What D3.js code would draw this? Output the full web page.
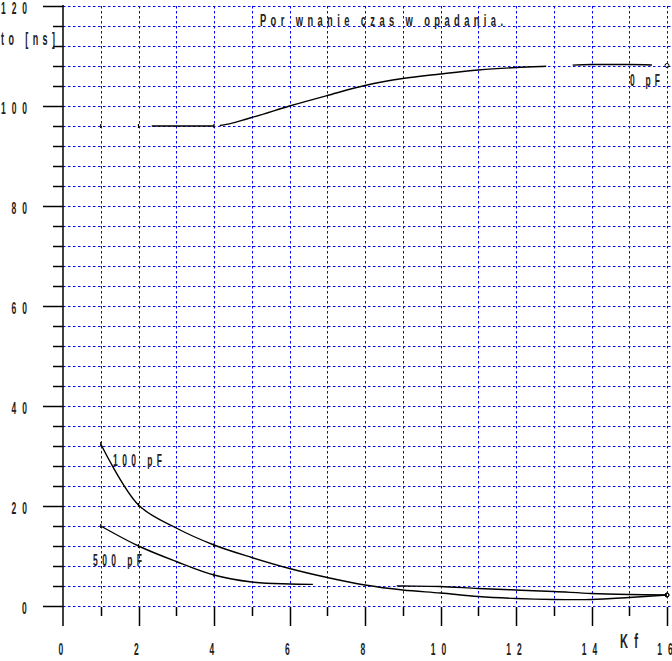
<!DOCTYPE html>
<html><head><meta charset="utf-8">
<script src="https://cdn.jsdelivr.net/npm/d3@7/dist/d3.min.js"></script>
<style>
html,body{margin:0;padding:0;background:#fff;}
text{font-family:"Liberation Sans",Arial,sans-serif;fill:#222;font-weight:bold;}
</style></head>
<body><svg id="c" width="672" height="661"></svg>
<script>
// ---- data ----
const kf = [1,2,3,4,5,6,7,8,9,10,11,12,13,14,15,16];
const pf0   = [96,96,96,96,97.7,100,102.1,104.1,105.5,106.4,107.2,107.7,108.0,108.3,108.3,108.1];
const pf100 = [32.4,20.2,15.6,12.2,9.7,7.5,5.7,4.2,3.2,2.6,1.9,1.5,1.3,1.3,1.7,2.2];
const pf500 = [16,12,8.9,6.2,4.8,4.4,4.3,4.1,4.0,3.9,3.5,3.2,2.9,2.5,2.3,2.2];
// visible drawn ranges of each curve (Kf units)
const pf0Ranges   = [[2.35,4.0],[4.15,12.8],[13.5,15.6]];
const pf100Ranges = [[1,16]];
const pf500Ranges = [[1,6.62],[8.84,16]];
const xTicks = [0,2,4,6,8,10,12,14,16];
const yTicks = [0,20,40,60,80,100,120];
const title = "Por wnanie czas w opadania.";
const yLabel = "to [ns]";
const xLabel = "Kf";
const seriesLabels = ["0 pF","100 pF","500 pF"];

// ---- scales ----
const svg = d3.select("#c");
const x = d3.scaleLinear().domain([0,16]).range([63,667]);
const y = d3.scaleLinear().domain([0,120]).range([606,6]);
const pitch = 10.5, glyphW = 5;
const w = s => (s.length-1)*pitch + glyphW;

// grid
const grid = svg.append("g").attr("stroke","#0000ff").attr("stroke-width",1)
  .attr("stroke-dasharray","2.5,2.5");
grid.selectAll("line.h").data(d3.range(0,121,4)).enter().append("line")
  .attr("x1",x(0)).attr("x2",672).attr("y1",d=>Math.round(y(d))+0.5).attr("y2",d=>Math.round(y(d))+0.5);
grid.selectAll("line.v").data(d3.range(1,17,1)).enter().append("line")
  .attr("x1",d=>Math.round(x(d))+0.5).attr("x2",d=>Math.round(x(d))+0.5).attr("y1",y(120)).attr("y2",y(0));

// axes
const ax = svg.append("g").attr("stroke","#000").attr("stroke-width",1.5);
ax.append("line").attr("x1",63).attr("x2",63).attr("y1",y(120)-1).attr("y2",626);
ax.selectAll("line.yt").data(d3.range(0,121,4)).enter().append("line")
  .attr("x1",d=>d%20===0?43:53).attr("x2",63).attr("y1",d=>Math.round(y(d))+0.5).attr("y2",d=>Math.round(y(d))+0.5);
ax.selectAll("line.xt").data(d3.range(1,17,1)).enter().append("line")
  .attr("x1",d=>Math.round(x(d))+0.5).attr("x2",d=>Math.round(x(d))+0.5)
  .attr("y1",y(0)+1).attr("y2",d=>d%2===0?626:616);

// narrow, spaced-out text: glyphs squeezed horizontally, spacing fills the width
function label(txt, x0, yb, width, size, sx, fill){
  sx = sx || 0.5;
  const g = svg.append("g").attr("transform",`translate(${x0},${yb}) scale(${sx},1)`);
  const t = g.append("text").attr("x",0).attr("y",0).attr("font-size",size).text(txt);
  if (fill) t.attr("fill",fill);
  if (txt.length>1) t.attr("textLength",width/sx).attr("lengthAdjust","spacing");
  return t;
}
// tick labels
yTicks.forEach(d=>{ const s=String(d); label(s, 27-w(s), y(d)+8, w(s), 17); });
xTicks.forEach(d=>{ const s=String(d); label(s, x(d)-2-w(s)/2, 655, w(s), 17); });

label(yLabel, 1, 45, 54, 18);
label(xLabel, 620, 648, 18, 20, 0.55);
label(title, 260, 26, 243, 17, 0.55, "#333");

// curves
const defs = svg.append("defs");
function drawSeries(vals, ranges, id, curve){
  const line = d3.line().x(d=>x(d[0])).y(d=>y(d[1])).curve(curve);
  const pts = kf.map((k,i)=>[k,vals[i]]);
  ranges.forEach((r,j)=>{
    const cid = id+"_"+j;
    defs.append("clipPath").attr("id",cid).append("rect")
      .attr("x",x(r[0])).attr("width",x(r[1])-x(r[0])).attr("y",0).attr("height",661);
    svg.append("path").attr("d",line(pts)).attr("fill","none").attr("stroke","#000")
      .attr("stroke-width",1.4).attr("clip-path","url(#"+cid+")");
  });
  [0,1,3].forEach(i=>{
    svg.append("line").attr("x1",x(kf[i])).attr("x2",x(kf[i]))
      .attr("y1",y(vals[i])-2).attr("y2",y(vals[i])+2).attr("stroke","#000").attr("stroke-width",1.2);
  });
  svg.append("circle").attr("cx",x(16)).attr("cy",y(vals[15])).attr("r",2)
    .attr("fill","none").attr("stroke","#000").attr("stroke-width",1);
}
drawSeries(pf0, pf0Ranges, "s0", d3.curveMonotoneX);
drawSeries(pf100, pf100Ranges, "s100", d3.curveCatmullRom);
drawSeries(pf500, pf500Ranges, "s500", d3.curveCatmullRom);

// series labels
label(seriesLabels[0], 630, 86, 30, 17);
label(seriesLabels[1], 113, 466, 49, 17);
label(seriesLabels[2], 93, 566, 49, 17);
</script></body></html>
